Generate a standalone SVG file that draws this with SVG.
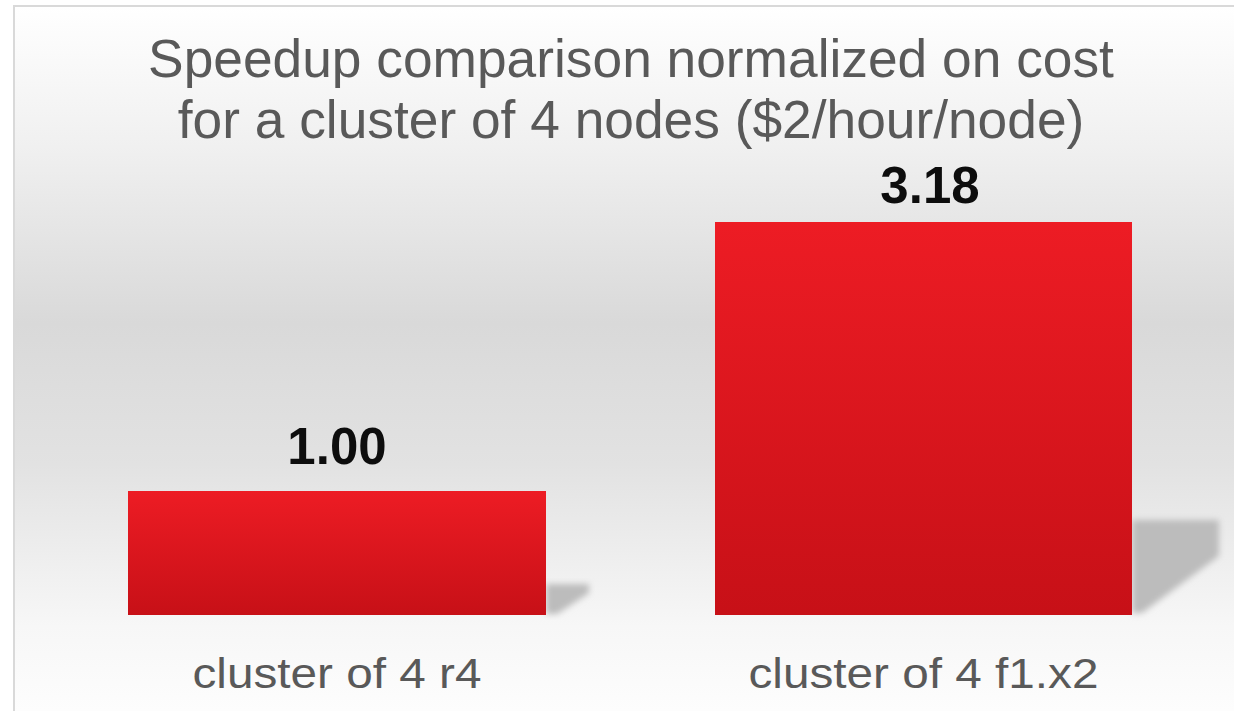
<svg xmlns="http://www.w3.org/2000/svg" width="1234" height="711" viewBox="0 0 1234 711">
  <defs>
    <linearGradient id="bg" x1="0" y1="6" x2="0" y2="711" gradientUnits="userSpaceOnUse">
      <stop offset="0" stop-color="#ffffff"/>
      <stop offset="0.2" stop-color="#f0f0f0"/>
      <stop offset="0.45" stop-color="#d9d9d9"/>
      <stop offset="0.65" stop-color="#e2e2e2"/>
      <stop offset="0.88" stop-color="#f7f7f7"/>
      <stop offset="1" stop-color="#fdfdfd"/>
    </linearGradient>
    <linearGradient id="bar" x1="0" y1="0" x2="0" y2="1">
      <stop offset="0" stop-color="#ed1c24"/>
      <stop offset="1" stop-color="#c71017"/>
    </linearGradient>
    <filter id="blur" x="-20%" y="-20%" width="140%" height="140%">
      <feGaussianBlur stdDeviation="3"/>
    </filter>
    <style>
      .title { font-family: "Liberation Sans", Arial, sans-serif; font-size: 53.3px; fill: #595959; text-anchor: middle; }
      .cat { font-family: "Liberation Sans", Arial, sans-serif; font-size: 43px; fill: #595959; text-anchor: middle; }
      .val { font-family: "Liberation Sans", Arial, sans-serif; font-size: 51px; font-weight: bold; fill: #0d0d0d; text-anchor: middle; }
      .bar { fill: url(#bar); }
      .shadow { fill: #bcbcbc; filter: url(#blur); }
    </style>
  </defs>

  <rect x="0" y="0" width="1234" height="711" fill="#ffffff"/>
  <rect id="plot-area" x="14" y="6" width="1240" height="720" fill="url(#bg)" stroke="#d9d9d9" stroke-width="2"/>

  <g id="title">
    <text class="title" x="631" y="77">Speedup comparison normalized on cost</text>
    <text class="title" x="631" y="138">for a cluster of 4 nodes ($2/hour/node)</text>
  </g>

  <g id="bar-r4">
    <path class="shadow" d="M546,584 L589,584 L589,593 L557,614 L546,614 Z"/>
    <rect class="bar" x="128" y="491" width="418" height="124"/>
    <text class="val" x="337" y="464">1.00</text>
    <text class="cat" x="337" y="688" textLength="289" lengthAdjust="spacingAndGlyphs">cluster of 4 r4</text>
  </g>

  <g id="bar-f1x2">
    <path class="shadow" d="M1132,520 L1219,520 L1219,556 L1142,613 L1132,613 Z"/>
    <rect class="bar" x="715" y="222" width="417" height="393"/>
    <text class="val" x="930" y="203">3.18</text>
    <text class="cat" x="923.5" y="688" textLength="350" lengthAdjust="spacingAndGlyphs">cluster of 4 f1.x2</text>
  </g>

  <g id="connectors"/>
</svg>
